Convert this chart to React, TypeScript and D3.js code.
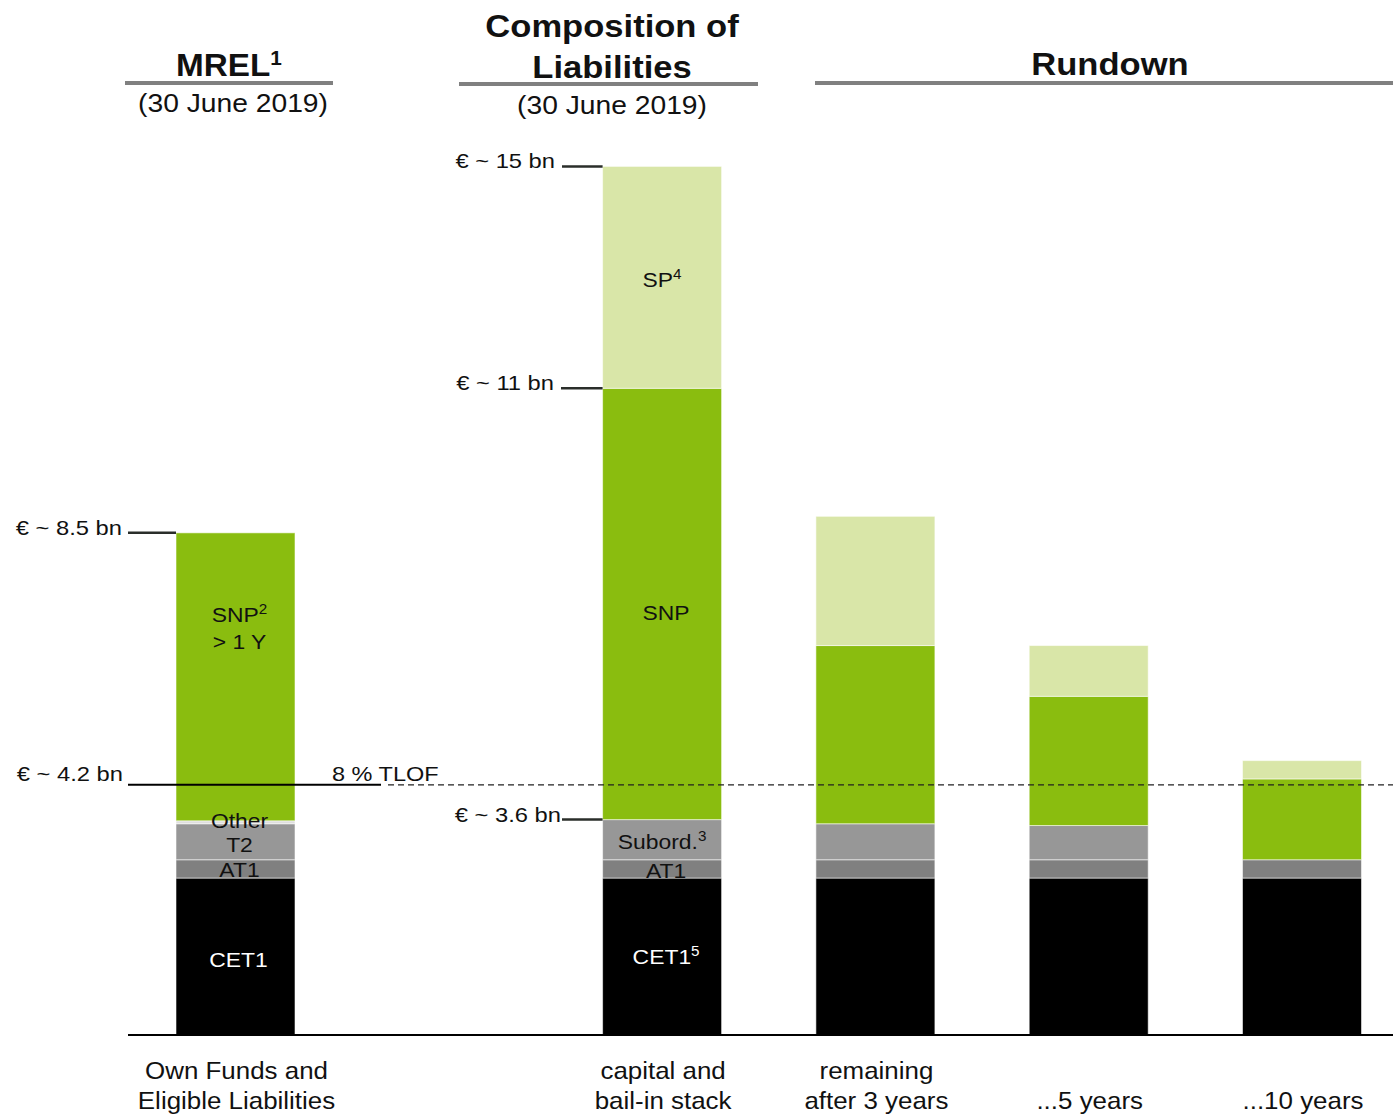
import * as d3 from 'd3';
import type { ReactNode } from 'react';

// categories (slot 1 is empty space between MREL and composition bars)
const SLOTS = ['mrel', 'gap', 'stack', 'y3', 'y5', 'y10'];
const CATEGORY_LABELS = [
  ['Own Funds and', 'Eligible Liabilities'],
  [],
  ['capital and', 'bail-in stack'],
  ['remaining', 'after 3 years'],
  ['', '...5 years'],
  ['', '...10 years'],
];

const SEGMENT_KEYS = ['cet1', 'at1', 'sub', 'other', 'snp', 'sp'];
const SEGMENT_COLORS = ['#000000', '#808080', '#979797', '#dedede', '#8abd0f', '#d9e6a8'];

// values in EUR bn
const CET1 = [2.66, 0, 2.66, 2.66, 2.66, 2.66];
const AT1 = [0.31, 0, 0.31, 0.31, 0.31, 0.31];
const SUB = [0.61, 0, 0.68, 0.61, 0.58, 0];
const OTHER = [0.05, 0, 0, 0, 0, 0];
const SNP = [4.88, 0, 7.31, 3.02, 2.19, 1.37];
const SP = [0, 0, 3.76, 2.19, 0.86, 0.31];

const TLOF = 4.24;

const W = 1393;
const H = 1115;
const BASE = 1035;
const FONT = '"Liberation Sans", Arial, sans-serif';

// text stretched horizontally like the source slide
function T({ x, y, size, sx = 1.1, anchor = 'middle', bold = false, fill = '#111', children }: {
  x: number; y: number; size: number; sx?: number; anchor?: string; bold?: boolean; fill?: string; children: ReactNode;
}) {
  return (
    <text
      transform={`translate(${x},${y}) scale(${sx},1)`}
      fontSize={size}
      fontFamily={FONT}
      fontWeight={bold ? 'bold' : 'normal'}
      textAnchor={anchor}
      fill={fill}
    >
      {children}
    </text>
  );
}

export default function App() {
  const x = d3.scalePoint<string>().domain(SLOTS).range([128.85, 1408.65]).padding(0.5);
  const y = d3.scaleLinear().domain([0, 14.71]).range([BASE, 167]);
  const barW = 119;

  const rows = SLOTS.map((s, i) => ({
    slot: s,
    cet1: CET1[i], at1: AT1[i], sub: SUB[i], other: OTHER[i], snp: SNP[i], sp: SP[i],
  }));
  const series = d3.stack<any>().keys(SEGMENT_KEYS)(rows);
  const top = (slot: number, key: string) => series[SEGMENT_KEYS.indexOf(key)][slot][1];
  const cx = (i: number) => x(SLOTS[i]) as number;

  // value callouts: [label, value, label right edge, line start, bar slot]
  const callouts: [string, number, number, number, number][] = [
    ['€ ~ 8.5 bn', top(0, 'snp'), 122, 128, 0],
    ['€ ~ 15 bn', top(2, 'sp'), 555, 562, 2],
    ['€ ~ 11 bn', top(2, 'snp'), 554, 561, 2],
    ['€ ~ 3.6 bn', top(2, 'other'), 561, 562, 2],
  ];

  return (
    <svg width={W} height={H} style={{ position: 'absolute', left: 0, top: 0 }}>
      <rect width={W} height={H} fill="#fff" />

      {/* headers */}
      <T x={229} y={76} size={32} sx={1.04} bold>MREL<tspan fontSize={20} dy={-11}>1</tspan></T>
      <line x1={125} x2={333} y1={83} y2={83} stroke="#808080" strokeWidth={4} />
      <T x={233} y={112} size={25} sx={1.13}>(30 June 2019)</T>

      <T x={612} y={37} size={32} sx={1.08} bold>Composition of</T>
      <T x={612} y={78} size={32} sx={1.08} bold>Liabilities</T>
      <line x1={459} x2={758} y1={84} y2={84} stroke="#808080" strokeWidth={4} />
      <T x={612} y={114} size={25} sx={1.13}>(30 June 2019)</T>

      <T x={1110} y={75} size={32} sx={1.08} bold>Rundown</T>
      <line x1={815} x2={1393} y1={83} y2={83} stroke="#808080" strokeWidth={4} />

      {/* bars */}
      {series.map((s, si) =>
        s.map((d, i) =>
          d[1] - d[0] > 0 ? (
            <rect
              key={`${si}-${i}`}
              x={cx(i) - barW / 2}
              y={y(d[1])}
              width={barW}
              height={y(d[0]) - y(d[1])}
              fill={SEGMENT_COLORS[si]}
              stroke="rgba(255,255,255,0.55)"
              strokeWidth={1}
            />
          ) : null,
        ),
      )}

      {/* baseline */}
      <line x1={128} x2={W} y1={BASE} y2={BASE} stroke="#000" strokeWidth={2} />

      {/* TLOF line */}
      <line x1={128} x2={381} y1={y(TLOF)} y2={y(TLOF)} stroke="#000" strokeWidth={2} />
      <line x1={388} x2={W} y1={y(TLOF)} y2={y(TLOF)} stroke="#222" strokeWidth={1.3} strokeDasharray="6 4" />
      <T x={332} y={y(TLOF) - 4} size={21} sx={1.12} anchor="start">8 % TLOF</T>
      <T x={123} y={y(TLOF) - 4} size={21} sx={1.13} anchor="end">€ ~ 4.2 bn</T>

      {/* callouts */}
      {callouts.map(([label, v, tx, lx, slot]) => (
        <g key={label}>
          <line x1={lx} x2={cx(slot) - barW / 2} y1={y(v)} y2={y(v)} stroke="#2a2e2a" strokeWidth={2.5} />
          <T x={tx} y={y(v) + 2} size={21} sx={1.13} anchor="end">{label}</T>
        </g>
      ))}

      {/* in-bar labels */}
      <T x={cx(0) + 4} y={622} size={21} sx={1.09}>SNP<tspan fontSize={14} dy={-8}>2</tspan></T>
      <T x={cx(0) + 4} y={649} size={21} sx={1.09}>&gt; 1 Y</T>
      <T x={cx(0) + 4} y={828} size={21} sx={1.09}>Other</T>
      <T x={cx(0) + 4} y={852} size={21} sx={1.09}>T2</T>
      <T x={cx(0) + 4} y={877} size={21} sx={1.09}>AT1</T>
      <T x={cx(0) + 3} y={967} size={21} sx={1.09} fill="#fff">CET1</T>

      <T x={cx(2)} y={287} size={21} sx={1.09}>SP<tspan fontSize={14} dy={-8}>4</tspan></T>
      <T x={cx(2) + 4} y={620} size={21} sx={1.09}>SNP</T>
      <T x={cx(2)} y={849} size={21} sx={1.09}>Subord.<tspan fontSize={14} dy={-8}>3</tspan></T>
      <T x={cx(2) + 4} y={878} size={21} sx={1.09}>AT1</T>
      <T x={cx(2) + 4} y={964} size={21} sx={1.09} fill="#fff">CET1<tspan fontSize={14} dy={-8}>5</tspan></T>

      {/* category labels */}
      {CATEGORY_LABELS.map((lines, i) => (
        <g key={i}>
          <T x={cx(i) + 1} y={1079} size={24} sx={1.08}>{lines[0]}</T>
          <T x={cx(i) + 1} y={1109} size={24} sx={1.08}>{lines[1]}</T>
        </g>
      ))}
    </svg>
  );
}
